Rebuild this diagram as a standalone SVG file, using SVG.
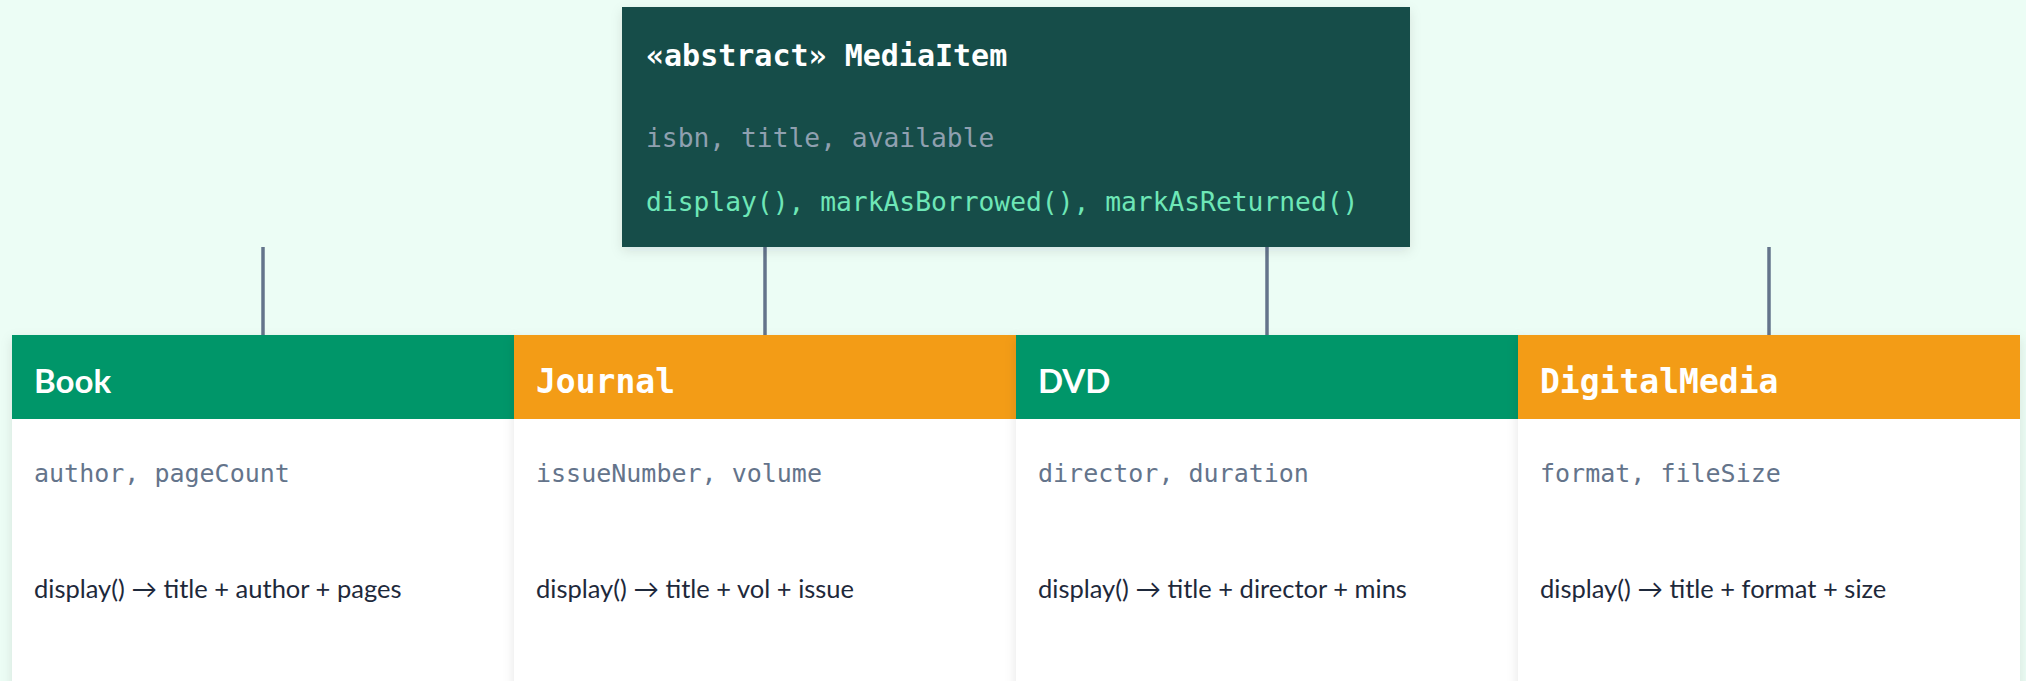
<svg xmlns="http://www.w3.org/2000/svg" width="2026" height="681" viewBox="0 0 2026 681">
  <defs>
    <filter id="shadow" x="-10%" y="-10%" width="120%" height="130%">
      <feDropShadow dx="0" dy="4" stdDeviation="6" flood-color="#0f172a" flood-opacity="0.10"/>
    </filter>
    <style>
      .bg { fill: #ecfdf5; }
      .abstract { fill: #134e4a; }
      .abs-title { font-family: "DejaVu Sans Mono", "Liberation Mono", monospace; font-weight: bold; font-size: 30px; fill: #ffffff; }
      .abs-attr { font-family: "DejaVu Sans Mono", "Liberation Mono", monospace; font-size: 26.3px; fill: #8fa0b0; }
      .abs-meth { font-family: "DejaVu Sans Mono", "Liberation Mono", monospace; font-size: 26.3px; fill: #6ee7b7; }
      .body { fill: #ffffff; }
      .hdr-green { fill: #059669; }
      .hdr-orange { fill: #f39c12; }
      .name-sans { font-family: Lato, "Open Sans", sans-serif; font-weight: bold; font-size: 33px; fill: #ffffff; }
      .name-mono { font-family: "DejaVu Sans Mono", "Liberation Mono", monospace; font-weight: bold; font-size: 33px; fill: #ffffff; }
      .field { font-family: "DejaVu Sans Mono", "Liberation Mono", monospace; font-size: 25px; fill: #64748b; }
      .method { font-family: Lato, "DejaVu Sans", sans-serif; font-size: 25.5px; fill: #1e293b; }
      .conn { stroke: #64748b; stroke-width: 3.5; fill: none; }
    </style>
  </defs>

  <rect class="bg" x="0" y="0" width="2026" height="681"/>

  <g id="connectors">
    <line class="conn" x1="263" y1="247" x2="263" y2="335"/>
    <line class="conn" x1="765" y1="247" x2="765" y2="335"/>
    <line class="conn" x1="1267" y1="247" x2="1267" y2="335"/>
    <line class="conn" x1="1769" y1="247" x2="1769" y2="335"/>
  </g>

  <g id="node-mediaitem">
    <rect class="abstract" x="622" y="7" width="788" height="240" filter="url(#shadow)"/>
    <text class="abs-title" x="646" y="66">«abstract» MediaItem</text>
    <text class="abs-attr" x="646" y="147">isbn, title, available</text>
    <text class="abs-meth" x="646" y="211">display(), markAsBorrowed(), markAsReturned()</text>
  </g>

  <g id="node-book">
    <g filter="url(#shadow)">
      <rect class="body" x="12" y="335" width="502" height="370"/>
      <rect class="hdr-green" x="12" y="335" width="502" height="84"/>
    </g>
    <text class="name-sans" x="34" y="393">Book</text>
    <text class="field" x="34" y="482">author, pageCount</text>
    <text class="method" x="34" y="598">display() → title + author + pages</text>
  </g>

  <g id="node-journal">
    <g filter="url(#shadow)">
      <rect class="body" x="514" y="335" width="502" height="370"/>
      <rect class="hdr-orange" x="514" y="335" width="502" height="84"/>
    </g>
    <text class="name-mono" x="536" y="393">Journal</text>
    <text class="field" x="536" y="482">issueNumber, volume</text>
    <text class="method" x="536" y="598">display() → title + vol + issue</text>
  </g>

  <g id="node-dvd">
    <g filter="url(#shadow)">
      <rect class="body" x="1016" y="335" width="502" height="370"/>
      <rect class="hdr-green" x="1016" y="335" width="502" height="84"/>
    </g>
    <text class="name-sans" x="1038" y="393">DVD</text>
    <text class="field" x="1038" y="482">director, duration</text>
    <text class="method" x="1038" y="598">display() → title + director + mins</text>
  </g>

  <g id="node-digitalmedia">
    <g filter="url(#shadow)">
      <rect class="body" x="1518" y="335" width="502" height="370"/>
      <rect class="hdr-orange" x="1518" y="335" width="502" height="84"/>
    </g>
    <text class="name-mono" x="1540" y="393">DigitalMedia</text>
    <text class="field" x="1540" y="482">format, fileSize</text>
    <text class="method" x="1540" y="598">display() → title + format + size</text>
  </g>
</svg>
